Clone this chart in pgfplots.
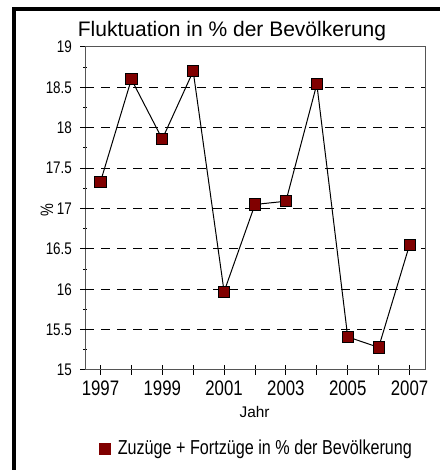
\documentclass[border=0pt]{standalone}
\usepackage{fontspec}
\setmainfont{Liberation Sans}
\newfontfamily\narrow{Liberation Sans}[FakeStretch=0.8]
\usepackage{pgfplots}
\pgfplotsset{compat=1.18}
\definecolor{darkred}{HTML}{800000}
\definecolor{axisgray}{HTML}{555555}

\pgfplotstableread{
year value
1997 17.33
1998 18.60
1999 17.86
2000 18.70
2001 15.97
2002 17.05
2003 17.09
2004 18.54
2005 15.41
2006 15.28
2007 16.55
}\fluktuation

\begin{document}
\begin{tikzpicture}
\useasboundingbox (0,0) rectangle (219.5pt,235pt);
\fill[white] (0,0) rectangle (219.5pt,235pt);
\draw[line width=2pt] (7pt,-1pt) -- (7pt,230.5pt) -- (221pt,230.5pt);

\begin{axis}[
  at={(42.5pt,50pt)}, anchor=south west,
  scale only axis, width=170pt, height=161.5pt,
  xmin=1996.5, xmax=2007.5,
  ymin=15, ymax=19,
  axis line style={axisgray, line width=0.5pt},
  xtick={1997,1998,...,2007},
  xticklabels={1997,{},1999,{},2001,{},2003,{},2005,{},2007},
  ytick={15,15.5,...,19},
  yticklabels={15,15.5,16,16.5,17,17.5,18,18.5,19},
  minor y tick num=1,
  tick align=center,
  major tick length=5pt,
  minor tick length=2pt,
  tick style={black, line width=0.5pt},
  xtick pos=bottom, ytick pos=left,
  xticklabel style={font=\narrow\fontsize{10.5}{12}\selectfont, yshift=0.5pt},
  yticklabel style={font=\narrow\fontsize{8.4}{10}\selectfont, xshift=-0.5pt},
  extra y ticks={15.5,16,...,18.5},
  extra y tick labels={},
  extra y tick style={major tick length=0pt, ymajorgrids=true, grid style={black, line width=0.5pt, dash pattern=on 4.5pt off 3.5pt}},
  legend style={at={(0.507,-0.245)}, anchor=center, draw=none, fill=none,
    font=\narrow\fontsize{10.1}{11}\selectfont, inner sep=0pt},
  legend image code/.code={\fill[darkred] (0pt,-2.75pt) rectangle (5.5pt,2.75pt);},
  clip=false,
]
\addplot[black, line width=0.5pt, mark=square*, mark size=2.8pt,
  mark options={fill=darkred, draw=black, line width=0.4pt}]
  table[x=year, y=value] {\fluktuation};
\addlegendentry{\hspace{1.5pt}Zuzüge + Fortzüge in \% der Bevölkerung}
\end{axis}

\node[anchor=base, font=\fontsize{10.5}{12}\selectfont] at (116pt,216.7pt) {Fluktuation in \% der Bevölkerung};
\node[anchor=base, font=\fontsize{7.7}{9}\selectfont] at (127.3pt,26.3pt) {Jahr};
\node[rotate=90, font=\narrow\fontsize{9}{10}\selectfont] at (23.5pt,130pt) {\%};
\end{tikzpicture}
\end{document}
